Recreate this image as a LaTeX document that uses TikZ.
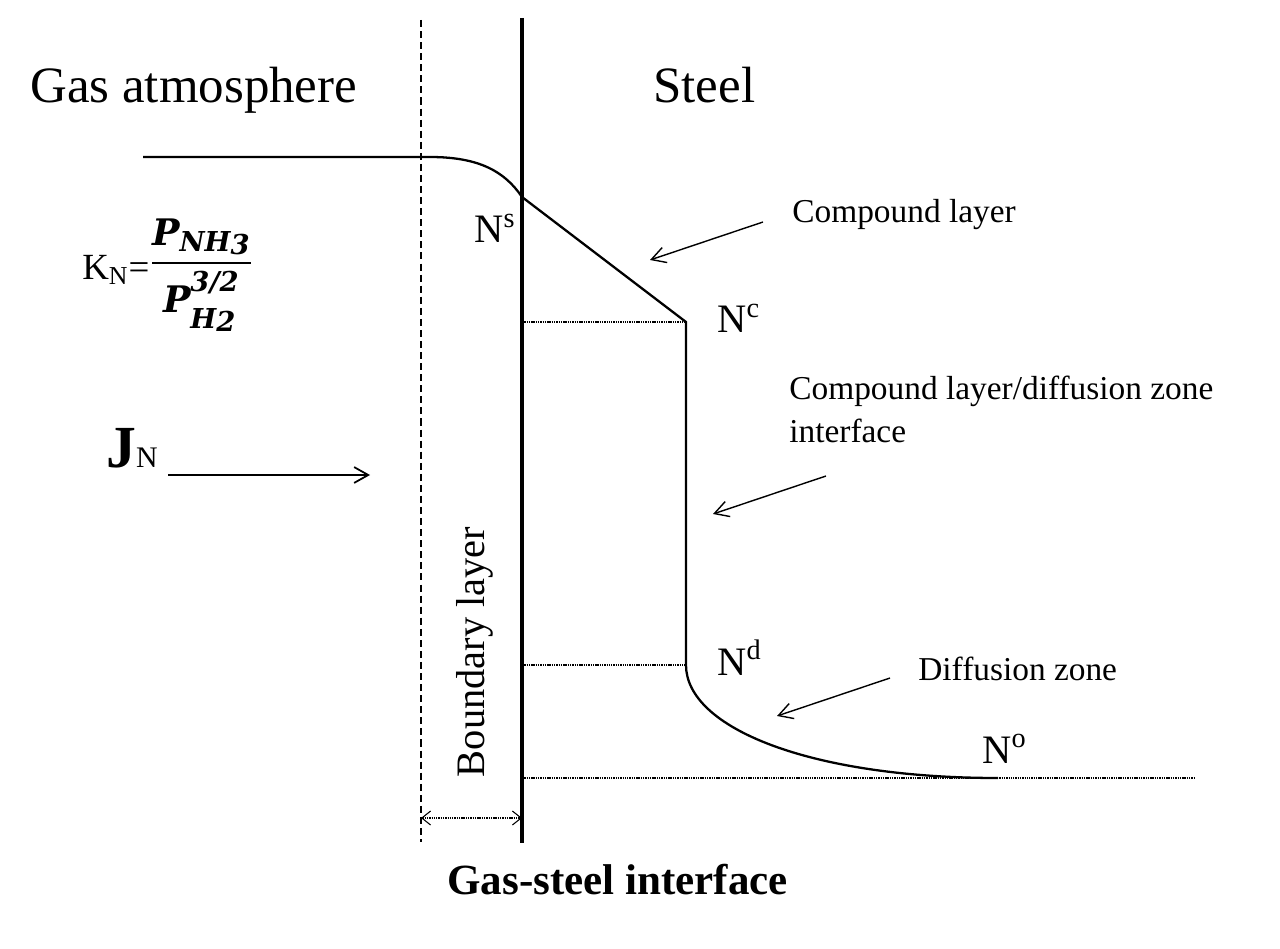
\documentclass[tikz,border=0pt]{standalone}
\usepackage{fontspec}
\usepackage{amsmath}
\usepackage{graphicx}
\setmainfont{Liberation Serif}
\newfontfamily\kfont{DejaVu Serif}
\usetikzlibrary{arrows.meta}
\newcommand\fsz[1]{\fontsize{#1}{#1}\selectfont}
\newcommand\kf{\kfont\bfseries\itshape}
\newcommand\ksub[1]{\text{\fsz{12}\kf #1}}

\begin{document}
\begin{tikzpicture}[x=0.02cm,y=-0.02cm,
  lbl/.style={inner sep=0pt, anchor=base west},
  callout/.style={line width=0.8pt, -{Straight Barb[length=8pt,width=9pt]}},
  guide/.style={line width=0.6pt, dash pattern=on 0.8pt off 0.5pt},
  profile/.style={line width=1.3pt}]
\useasboundingbox (0,0) rectangle (1280,949);
%\draw [lightgray](0,0) grid [step=100] (1280,949);

% boundary layer edge and interface
\coordinate (dtop) at (421,20);
\coordinate (dbot) at (421,842);
\coordinate (wtop) at (522,18);
\coordinate (wbot) at (522,843);
\draw [line width=0.6pt, dash pattern=on 4pt off 2.3pt] (dtop) -- (dbot);
\draw [line width=2pt] (wtop) -- (wbot);

% nitrogen profile
\coordinate (gas) at (143,157);
\coordinate (bend) at (430,157);
\coordinate (ns) at (522,197);
\coordinate (nc) at (686,322);
\coordinate (nd) at (686,665);
\coordinate (no) at (998,778);
\draw [profile] (gas) -- (bend) .. controls (480,157) and (505,172) .. (ns)
  -- (nc) -- (nd) .. controls (686,728) and (810,778) .. (no);

% guide lines
\coordinate (gend) at (1195,778);
\draw [guide] (wtop |- nc) -- (nc);
\draw [guide] (wtop |- nd) -- (nd);
\draw [guide] (wtop |- no) -- (gend);

% boundary layer width
\coordinate (bl1) at (421,818);
\coordinate (bl2) at (522,818);
\draw [guide, {Straight Barb[length=5pt,width=8pt]}-{Straight Barb[length=5pt,width=8pt]}] (bl1) -- (bl2);

% titles
\node [lbl, font=\fsz{29}] (gasatm) at (30,103) {Gas atmosphere};
\node [lbl, font=\fsz{29}] (steel) at (653,103) {Steel};
\node [lbl, font=\fsz{24.5}\bfseries] (iface) at (447,894) {Gas-steel interface};
\node [font=\fsz{23}, rotate=90, anchor=base, inner sep=0pt] (blayer) at (484,652) {Boundary layer};

% concentrations
\node [lbl, font=\fsz{23}] (nslab) at (474,243) {N\textsuperscript{s}};
\node [lbl, font=\fsz{23}] (nclab) at (717,333) {N\textsuperscript{c}};
\node [lbl, font=\fsz{23}] (ndlab) at (717,675) {N\textsuperscript{d}};
\node [lbl, font=\fsz{23}] (nolab) at (982,763) {N\textsuperscript{o}};

% nitriding potential
\node [lbl] (kn) at (82,279) {\fsz{21}K\textsubscript{N}=\raisebox{3.5pt}{\scalebox{1.3}[1.3]{\fsz{16}%
  $\genfrac{}{}{1pt}{0}{\text{\kf P}_{\ksub{NH\raisebox{-0.2ex}{3}}}}{\text{\kf P}^{\ksub{\raisebox{2pt}{3/2}}}_{\ksub{\raisebox{-2.5pt}{H\raisebox{-0.2ex}{2}}}}}$}}};

% nitrogen flux
\node [lbl, font=\fsz{34}\bfseries] (jn) at (106,467) {J{\mdseries\fsz{17}N}};
\coordinate (jA) at (168,475);
\coordinate (jB) at (370,475);
\draw [line width=1pt, -{Straight Barb[length=8pt,width=9pt]}] (jA) -- (jB);

% layers
\node [lbl, font=\fsz{19}] (cl) at (792,223) {Compound layer};
\coordinate (clA) at (763,222);
\coordinate (clB) at (650,260);
\draw [callout] (clA) -- (clB);

\node [lbl, font=\fsz{19}] (cdz) at (789,399) {Compound layer/diffusion zone};
\node [lbl, font=\fsz{19}] (cdz2) at (789,442) {interface};
\coordinate (cdA) at (826,476);
\coordinate (cdB) at (713,514);
\draw [callout] (cdA) -- (cdB);

\node [lbl, font=\fsz{19}] (dz) at (918,680) {Diffusion zone};
\coordinate (dzA) at (890,678);
\coordinate (dzB) at (777,716);
\draw [callout] (dzA) -- (dzB);

\end{tikzpicture}
\end{document}
